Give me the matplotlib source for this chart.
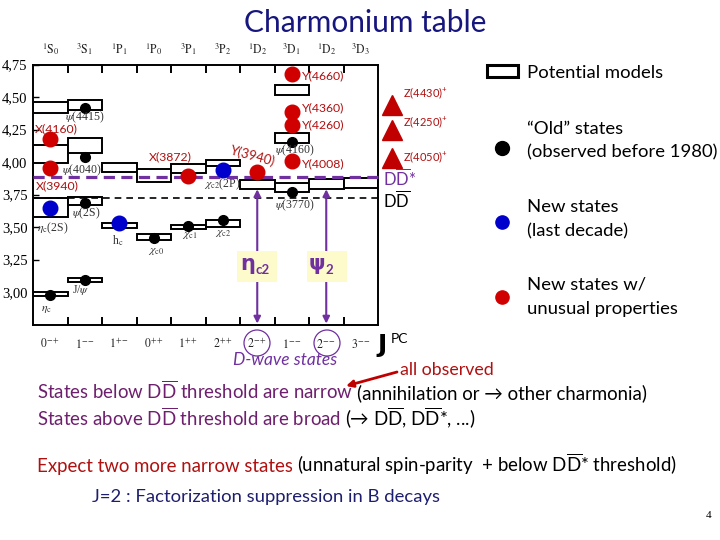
import matplotlib
matplotlib.use('Agg')
import matplotlib.pyplot as plt
from matplotlib.patches import Rectangle, Circle

plt.rcParams['font.family'] = ['Lato', 'DejaVu Sans']
plt.rcParams['mathtext.fontset'] = 'custom'
plt.rcParams['mathtext.rm'] = 'Lato'
plt.rcParams['mathtext.it'] = 'Lato:italic'
plt.rcParams['mathtext.bf'] = 'Lato:bold'
plt.rcParams['mathtext.fallback'] = 'stixsans'

# ---- data ----
col_top = [r'$^{1}\mathrm{S}_{0}$', r'$^{3}\mathrm{S}_{1}$', r'$^{1}\mathrm{P}_{1}$', r'$^{1}\mathrm{P}_{0}$',
           r'$^{3}\mathrm{P}_{1}$', r'$^{3}\mathrm{P}_{2}$', r'$^{1}\mathrm{D}_{2}$', r'$^{3}\mathrm{D}_{1}$',
           r'$^{1}\mathrm{D}_{2}$', r'$^{3}\mathrm{D}_{3}$']
col_jpc = [r'$0^{-+}$', r'$1^{--}$', r'$1^{+-}$', r'$0^{++}$', r'$1^{++}$', r'$2^{++}$',
           r'$2^{-+}$', r'$1^{--}$', r'$2^{--}$', r'$3^{--}$']

# potential model predictions (column, low, high) in GeV
box_col = [0, 0, 0, 0, 1, 1, 1, 1, 2, 2, 3, 3, 4, 4, 5, 5, 6, 7, 7, 7, 8, 9]
box_lo = [4.38, 3.99, 3.58, 2.97, 4.40, 4.07, 3.67, 3.08, 3.92, 3.49, 3.845, 3.40,
          3.915, 3.485, 3.97, 3.50, 3.79, 4.515, 4.145, 3.77, 3.79, 3.80]
box_hi = [4.46, 4.13, 3.72, 3.00, 4.48, 4.185, 3.73, 3.107, 3.99, 3.53, 3.945, 3.445,
          3.985, 3.515, 4.015, 3.555, 3.86, 4.59, 4.22, 3.84, 3.87, 3.88]

old_col = [0, 1, 1, 1, 1, 3, 4, 5, 7, 7]
old_mass = [2.977, 3.092, 3.685, 4.04, 4.415, 3.415, 3.508, 3.554, 3.77, 4.154]

new_col = [0, 2, 5]
new_mass = [3.646, 3.53, 3.938]

odd_col = [0, 0, 4, 6, 7, 7, 7, 7]
odd_mass = [4.177, 3.954, 3.892, 3.923, 4.008, 4.285, 4.385, 4.677]

z_mass = [4.44, 4.25, 4.03]
z_names = [r'Z(4430)$^{+}$', r'Z(4250)$^{+}$', r'Z(4050)$^{+}$']

dd_thr = 3.723
ddstar_thr = 3.885

purple = '#7030a0'
dred = '#b01010'
red = '#d00000'
blue = '#0000cc'

fig = plt.figure(figsize=(7.2, 5.4), dpi=100)
ax = fig.add_axes([33 / 720, 1 - 324.5 / 540, 345 / 720, 260 / 540])
ax.set_xlim(0, 10)
ax.set_ylim(2.75, 4.75)

for c, lo, hi in zip(box_col, box_lo, box_hi):
    ax.add_patch(Rectangle((c, lo), 1, hi - lo, facecolor='white', edgecolor='black', lw=1.4, zorder=2))

ax.plot([0, 10.15], [ddstar_thr] * 2, ls=(0, (3.5, 2)), color=purple, lw=2.3, clip_on=False, zorder=3)
ax.plot([0, 10.15], [dd_thr] * 2, ls=(0, (4, 3)), color='black', lw=1.2, clip_on=False, zorder=3)

ax.plot([c + 0.5 for c in old_col], old_mass, 'o', color='black', ms=7, zorder=5)
ax.plot([c + 0.5 for c in new_col], new_mass, 'o', color=blue, ms=10.5, zorder=5)
ax.plot([c + 0.5 for c in odd_col], odd_mass, 'o', color=red, ms=10.5, zorder=5)
ax.plot([10.4] * 3, z_mass, '^', color='#c00000', ms=14, clip_on=False, zorder=5)

for xc in [6.5, 8.5]:
    ax.annotate('', xy=(xc, 2.757), xytext=(xc, 3.79),
                arrowprops=dict(arrowstyle='<|-|>', color=purple, lw=1.5, mutation_scale=10,
                                shrinkA=0, shrinkB=0), zorder=4)

ax.set_xticks(range(1, 10))
ax.set_yticks([3.0, 3.25, 3.5, 3.75, 4.0, 4.25, 4.5, 4.75])
ax.set_yticklabels(['3,00', '3,25', '3,50', '3,75', '4,00', '4,25', '4,50', '4,75'],
                   family='Liberation Serif', fontsize=10.5)
ax.tick_params(axis='x', direction='in', top=True, bottom=True, length=6, width=1.4, labelbottom=False)
ax.tick_params(axis='y', direction='in', length=4, width=1, pad=4)
for s in ax.spines.values():
    s.set_linewidth(1.4)

# ---- overlay in pixel coordinates ----
ov = fig.add_axes([0, 0, 1, 1], zorder=5)
ov.set_xlim(0, 720)
ov.set_ylim(540, 0)
ov.axis('off')

def t(x, y, s, **kw):
    kw.setdefault('va', 'center')
    return ov.text(x, y, s, **kw)

t(365, 23, 'Charmonium table', ha='center', fontsize=21.5, color='#16167e')

for i, lab in enumerate(col_top):
    t(33 + 34.5 * (i + 0.5), 49, lab, ha='center', fontsize=8.5, math_fontfamily='stix', color='#222222')
for i, lab in enumerate(col_jpc):
    t(33 + 34.5 * (i + 0.5), 343, lab, ha='center', fontsize=8.5, math_fontfamily='stix', color='#222222')
for xc in [257, 327]:
    ov.add_patch(Circle((xc, 343), 13, fill=False, edgecolor=purple, lw=0.9))
t(377, 345, 'J', fontsize=18, fontweight='bold', ha='left', family='DejaVu Sans')
t(391, 339, 'PC', fontsize=10, ha='left')
t(285, 360, 'D-wave states', ha='center', fontsize=12.5, style='italic', color=purple)

# serif labels of the known states
serif = dict(family='Liberation Serif', math_fontfamily='stix', fontsize=8.5, color='#333333')
t(65, 117, r'$\psi$(4415)', **serif)
t(62, 170, r'$\psi$(4040)', **serif)
t(72, 213, r'$\psi$(2S)', **serif)
t(72, 290, r'J/$\psi$', **serif)
t(41, 309, r'$\eta_{\mathrm{c}}$', **serif)
t(37, 228, r'$\eta_{\mathrm{c}}$(2S)', **serif)
t(112, 241, r'h$_{\mathrm{c}}$', **serif)
t(148, 251, r'$\chi_{\mathrm{c0}}$', **serif)
t(182, 235, r'$\chi_{\mathrm{c1}}$', **serif)
t(215, 233, r'$\chi_{\mathrm{c2}}$', **serif)
t(204, 184, r'$\chi_{\mathrm{c2}}$(2P)', **serif)
t(275, 150, r'$\psi$(4160)', **serif)
t(275, 205, r'$\psi$(3770)', **serif)

# labels of the unusual states
rl = dict(fontsize=8.8, color=dred)
t(35, 129, 'X(4160)', **rl)
t(36, 186, 'X(3940)', **rl)
t(149, 157, 'X(3872)', **rl)
t(253, 156, 'Y(3940)', ha='center', rotation=-15, fontsize=9.5, color=dred)
t(302, 76, 'Y(4660)', **rl)
t(302, 108, 'Y(4360)', **rl)
t(302, 125, 'Y(4260)', **rl)
t(302, 164, 'Y(4008)', **rl)
for yy, nm in zip([93, 122, 157], z_names):
    t(403, yy, nm, fontsize=8, color=dred)

t(383, 178, r'D$\overline{\mathrm{D}}$*', fontsize=12, color=purple)
t(383, 200, r'D$\overline{\mathrm{D}}$', fontsize=12, color='black')

# yellow labels on the arrows
for xc, sub, main in [(257, 'c2', 'η'), (327, '2', 'ψ')]:
    ov.add_patch(Rectangle((xc - 20, 251), 40, 31, facecolor='#fdfacb', edgecolor='none', zorder=1))
    t(xc - 2, 264, main, ha='right', fontsize=15, fontweight='bold', color=purple, family='DejaVu Sans', zorder=2)
    t(xc - 2, 270, sub, ha='left', fontsize=9.5, fontweight='bold', color=purple, zorder=2)

# legend
ov.add_patch(Rectangle((487, 65), 31, 12, facecolor='white', edgecolor='black', lw=2.2))
ov.plot([502], [148], 'o', color='black', ms=10)
ov.plot([502], [222], 'o', color=blue, ms=9.5)
ov.plot([502], [297], 'o', color=red, ms=9.5)
lg = dict(fontsize=13.3, color='black')
t(527, 73, 'Potential models', **lg)
t(527, 129, '\u201cOld\u201d states', **lg)
t(527, 152, '(observed before 1980)', **lg)
t(527, 207, 'New states', **lg)
t(527, 231, '(last decade)', **lg)
t(527, 285, 'New states w/', **lg)
t(527, 309, 'unusual properties', **lg)

# bottom text
rend = fig.canvas.get_renderer()

def chain(x, y, pieces, size=13.4):
    for s, col, gap in pieces:
        tx = ov.text(x, y, s, va='baseline', ha='left', fontsize=size, color=col)
        x += tx.get_window_extent(renderer=rend).width + gap
    return x

dd = r'D$\overline{\mathrm{D}}$'
lpurp = '#6e1f6e'
chain(37, 399, [('States below ' + dd + ' threshold are narrow', lpurp, 4),
                ('(annihilation or \u2192 other charmonia)', 'black', 0)])
chain(37, 426, [('States above ' + dd + ' threshold are broad', lpurp, 4),
                ('(\u2192 ' + dd + ', ' + dd + '*, ...)', 'black', 0)])
chain(37, 472, [('Expect two more narrow states', dred, 4),
                ('(unnatural spin-parity  + below ' + dd + '* threshold)', 'black', 0)])
t(92, 497, 'J=2 : Factorization suppression in B decays', fontsize=13.3, color='#1e1e6e')
t(400, 370, 'all observed', fontsize=12.8, color=dred)
ov.annotate('', xy=(346, 386), xytext=(397, 372),
            arrowprops=dict(arrowstyle='-|>', color='#c00000', lw=2, mutation_scale=10, shrinkA=0, shrinkB=0))
t(706, 516, '4', fontsize=8, family='Liberation Serif')

fig.savefig('out.png', dpi=100)
